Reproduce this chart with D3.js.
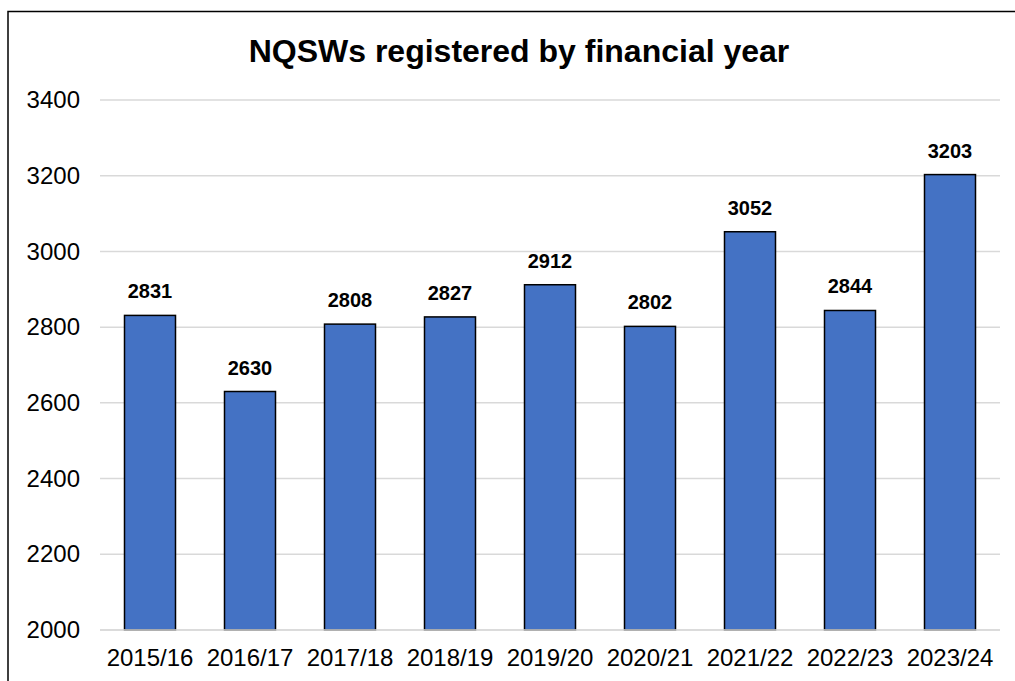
<!DOCTYPE html>
<html>
<head>
<meta charset="utf-8">
<script src="https://cdn.jsdelivr.net/npm/d3@7"></script>
<style>
    html, body { margin: 0; padding: 0; background: #ffffff; }
    svg { display: block; }
</style>
</head>
<body>
<svg id="chart"></svg>
<script>
    var years = ['2015/16', '2016/17', '2017/18', '2018/19', '2019/20', '2020/21', '2021/22', '2022/23', '2023/24'],
        registered = [2831, 2630, 2808, 2827, 2912, 2802, 3052, 2844, 3203],
        yTicks = [2000, 2200, 2400, 2600, 2800, 3000, 3200, 3400];

    var width = 1015,
        height = 681,
        font = 'Arial, "Liberation Sans", sans-serif';

    var svg = d3.select('#chart').attr('width', width).attr('height', height);

    // chart frame (only top and left edges fall inside the picture)
    svg.append('rect')
        .attr('x', 8).attr('y', 11.5)
        .attr('width', 1100).attr('height', 800)
        .attr('fill', 'none')
        .attr('stroke', '#000000')
        .attr('stroke-width', 1.5);

    var x = d3.scaleBand()
        .domain(years)
        .range([100, 1000])
        .paddingInner(0.49)
        .paddingOuter(0.245);

    var y = d3.scaleLinear()
        .domain([2000, 3400])
        .range([630, 100]);

    // gridlines
    svg.append('g')
        .selectAll('line')
            .data(yTicks)
        .enter()
            .append('line')
            .attr('x1', 100)
            .attr('x2', 1000)
            .attr('y1', function(d) { return y(d); })
            .attr('y2', function(d) { return y(d); })
            .attr('stroke', '#d9d9d9')
            .attr('stroke-width', 1.5);

    // y axis labels
    var yAxis = svg.append('g')
        .attr('transform', 'translate(100 0)')
        .call(d3.axisLeft(y).tickValues(yTicks).tickFormat(d3.format('d')).tickSize(0).tickPadding(20));
    yAxis.select('.domain').remove();
    yAxis.selectAll('text')
        .attr('font-family', font)
        .attr('font-size', 24)
        .attr('fill', '#000000');

    // bars
    svg.append('g')
        .selectAll('rect')
            .data(registered)
        .enter()
            .append('rect')
            .attr('x', function(d, i) { return x(years[i]); })
            .attr('y', function(d) { return y(d); })
            .attr('width', x.bandwidth())
            .attr('height', function(d) { return y(2000) - y(d); })
            .attr('fill', '#4472c4')
            .attr('stroke', '#000000')
            .attr('stroke-width', 1.5);

    // baseline over the bar bottoms
    svg.append('line')
        .attr('x1', 100).attr('x2', 1000)
        .attr('y1', y(2000)).attr('y2', y(2000))
        .attr('stroke', '#d9d9d9')
        .attr('stroke-width', 1.5);

    // value labels
    svg.append('g')
        .selectAll('text')
            .data(registered)
        .enter()
            .append('text')
            .attr('x', function(d, i) { return x(years[i]) + x.bandwidth() / 2; })
            .attr('y', function(d) { return y(d) - 17; })
            .attr('text-anchor', 'middle')
            .attr('font-family', font)
            .attr('font-size', 20)
            .attr('font-weight', 'bold')
            .attr('fill', '#000000')
            .text(function(d) { return d; });

    // x axis labels
    var xAxis = svg.append('g')
        .attr('transform', 'translate(0 630)')
        .call(d3.axisBottom(x).tickSize(0).tickPadding(19));
    xAxis.select('.domain').remove();
    xAxis.selectAll('text')
        .attr('font-family', font)
        .attr('font-size', 24)
        .attr('fill', '#000000');

    // title
    svg.append('text')
        .attr('x', 519)
        .attr('y', 62)
        .attr('text-anchor', 'middle')
        .attr('font-family', font)
        .attr('font-size', 32)
        .attr('font-weight', 'bold')
        .attr('fill', '#000000')
        .text('NQSWs registered by financial year');
</script>
</body>
</html>
